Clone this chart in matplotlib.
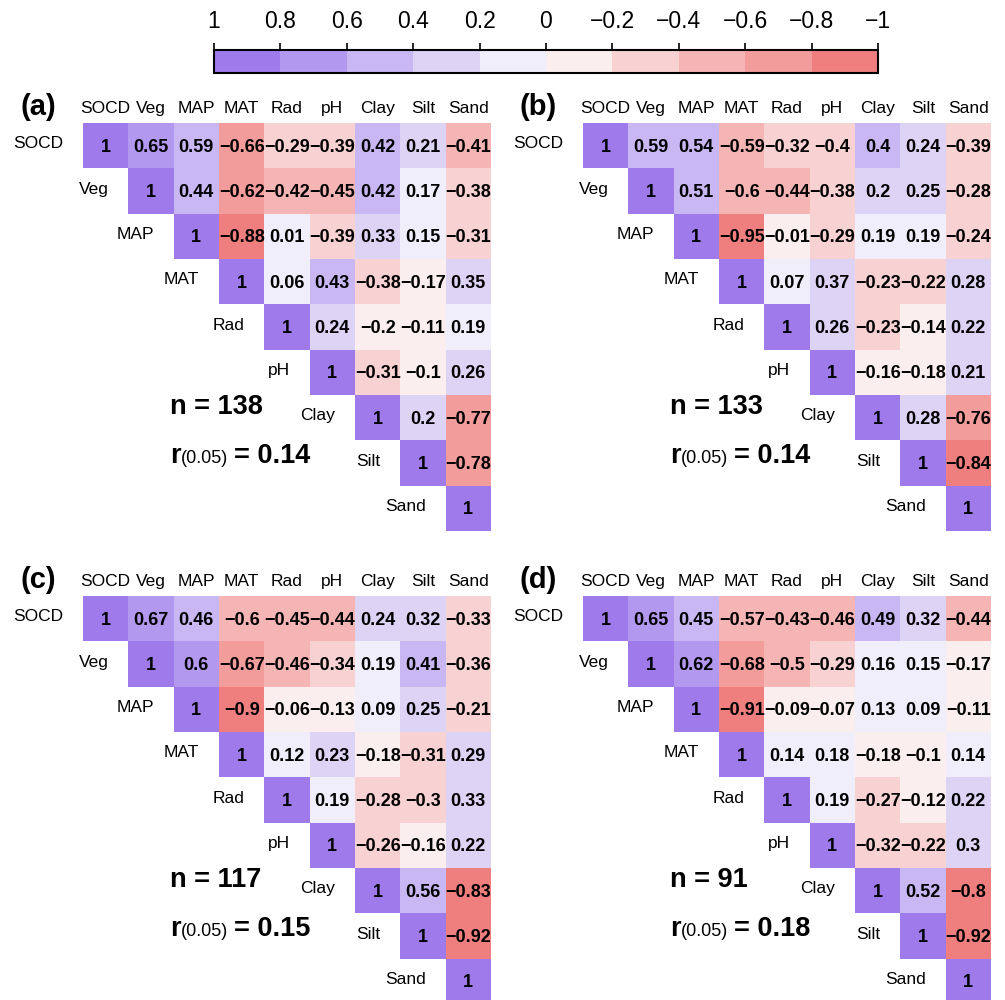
import numpy as np
import matplotlib
matplotlib.use("Agg")
import matplotlib.pyplot as plt
from matplotlib.colors import ListedColormap, BoundaryNorm
from matplotlib.cm import ScalarMappable
from matplotlib.transforms import offset_copy

plt.rcParams["font.family"] = ["Liberation Sans", "DejaVu Sans"]

VARS = ["SOCD", "Veg", "MAP", "MAT", "Rad", "pH", "Clay", "Silt", "Sand"]

# upper triangles, row by row (diagonal first)
corr_a = [
    [1, 0.65, 0.59, -0.66, -0.29, -0.39, 0.42, 0.21, -0.41],
    [1, 0.44, -0.62, -0.42, -0.45, 0.42, 0.17, -0.38],
    [1, -0.88, 0.01, -0.39, 0.33, 0.15, -0.31],
    [1, 0.06, 0.43, -0.38, -0.17, 0.35],
    [1, 0.24, -0.2, -0.11, 0.19],
    [1, -0.31, -0.1, 0.26],
    [1, 0.2, -0.77],
    [1, -0.78],
    [1],
]
corr_b = [
    [1, 0.59, 0.54, -0.59, -0.32, -0.4, 0.4, 0.24, -0.39],
    [1, 0.51, -0.6, -0.44, -0.38, 0.2, 0.25, -0.28],
    [1, -0.95, -0.01, -0.29, 0.19, 0.19, -0.24],
    [1, 0.07, 0.37, -0.23, -0.22, 0.28],
    [1, 0.26, -0.23, -0.14, 0.22],
    [1, -0.16, -0.18, 0.21],
    [1, 0.28, -0.76],
    [1, -0.84],
    [1],
]
corr_c = [
    [1, 0.67, 0.46, -0.6, -0.45, -0.44, 0.24, 0.32, -0.33],
    [1, 0.6, -0.67, -0.46, -0.34, 0.19, 0.41, -0.36],
    [1, -0.9, -0.06, -0.13, 0.09, 0.25, -0.21],
    [1, 0.12, 0.23, -0.18, -0.31, 0.29],
    [1, 0.19, -0.28, -0.3, 0.33],
    [1, -0.26, -0.16, 0.22],
    [1, 0.56, -0.83],
    [1, -0.92],
    [1],
]
corr_d = [
    [1, 0.65, 0.45, -0.57, -0.43, -0.46, 0.49, 0.32, -0.44],
    [1, 0.62, -0.68, -0.5, -0.29, 0.16, 0.15, -0.17],
    [1, -0.91, -0.09, -0.07, 0.13, 0.09, -0.11],
    [1, 0.14, 0.18, -0.18, -0.1, 0.14],
    [1, 0.19, -0.27, -0.12, 0.22],
    [1, -0.32, -0.22, 0.3],
    [1, 0.52, -0.801],
    [1, -0.92],
    [1],
]

panel_labels = ["(a)", "(b)", "(c)", "(d)"]
n_values = [138, 133, 117, 91]
r_crit = [0.14, 0.14, 0.15, 0.18]

# colour bins from -1 up to 1
BIN_COLORS = ["#ef7f7f", "#f29c9b", "#f5b5b5", "#f8d2d2", "#fbeeee",
              "#f1eefb", "#ddd3f5", "#c8b7f2", "#b398ef", "#9e7aeb"]
bounds = np.round(np.linspace(-1, 1, 11), 1)
cmap = ListedColormap(BIN_COLORS)
norm = BoundaryNorm(bounds, cmap.N, clip=True)

W, H = 1005, 1000
fig = plt.figure(figsize=(W / 100, H / 100), dpi=100)


def fmt(v):
    s = f"{v:.2f}".rstrip("0").rstrip(".")
    return s.replace("-", "\u2212")


def to_matrix(rows):
    n = len(rows)
    m = np.full((n, n), np.nan)
    for i, r in enumerate(rows):
        m[i, i:] = r
    return m


def draw_panel(left_px, top_px, rows, letter, n_val, r_val):
    size = 408
    ax = fig.add_axes([left_px / W, 1 - (top_px + size) / H, size / W, size / H])
    m = to_matrix(rows)
    k = len(VARS)
    ax.pcolormesh(np.arange(k + 1) - 0.5, np.arange(k + 1) - 0.5,
                  np.ma.masked_invalid(m), cmap=cmap, norm=norm,
                  edgecolors="none", antialiased=False)
    ax.set_xlim(-0.5, k - 0.5)
    ax.set_ylim(k - 0.5, -0.5)
    ax.axis("off")

    for i in range(k):
        for j in range(i, k):
            ax.text(j, i + 0.03, fmt(m[i, j]), ha="center", va="center",
                    fontsize=13, fontweight="bold", color="black")
        # row label just left of the diagonal cell
        ax.text(i - 0.94, i - 0.04, VARS[i], ha="right", va="center",
                fontsize=12.5, color="black", clip_on=False)
        ax.text(i, -0.83, VARS[i], ha="center", va="center",
                fontsize=12.5, color="black", clip_on=False)

    ax.text(-1.49, -0.85, letter, ha="center", va="center", fontsize=21,
            fontweight="bold", clip_on=False)

    ax.text(1.42, 5.77, f"n = {n_val}", ha="left", va="center",
            fontsize=19.5, fontweight="bold", clip_on=False)

    x0, y0 = 1.42, 7.0
    ax.text(x0, y0, "r", ha="left", va="baseline", fontsize=19.5,
            fontweight="bold", clip_on=False)
    t_sub = offset_copy(ax.transData, fig=fig, x=7.8, y=0, units="points")
    ax.text(x0, y0, "(0.05)", transform=t_sub, ha="left", va="baseline",
            fontsize=13, clip_on=False)
    t_eq = offset_copy(ax.transData, fig=fig, x=46, y=0, units="points")
    ax.text(x0, y0, f"= {r_val:.2f}", transform=t_eq, ha="left",
            va="baseline", fontsize=19.5, fontweight="bold", clip_on=False)


corrs = [corr_a, corr_b, corr_c, corr_d]
positions = [(83, 123), (583, 123), (83, 596), (583, 596)]
for (lx, ty), rows, lab, nv, rv in zip(positions, corrs, panel_labels,
                                       n_values, r_crit):
    draw_panel(lx, ty, rows, lab, nv, rv)

# colour bar, running from 1 on the left to -1 on the right
cax = fig.add_axes([214 / W, 1 - 73 / H, 664 / W, 23 / H])
sm = ScalarMappable(norm=norm, cmap=cmap)
cb = fig.colorbar(sm, cax=cax, orientation="horizontal", ticks=bounds)
cb.ax.invert_xaxis()
cb.ax.xaxis.set_ticks_position("top")
cb.ax.xaxis.set_label_position("top")
cb.set_ticklabels([fmt(b) for b in bounds])
cb.ax.tick_params(length=5, width=1.2, labelsize=16.5, pad=7)
cb.outline.set_linewidth(1.5)

fig.savefig("out.png", dpi=100, facecolor="white")
